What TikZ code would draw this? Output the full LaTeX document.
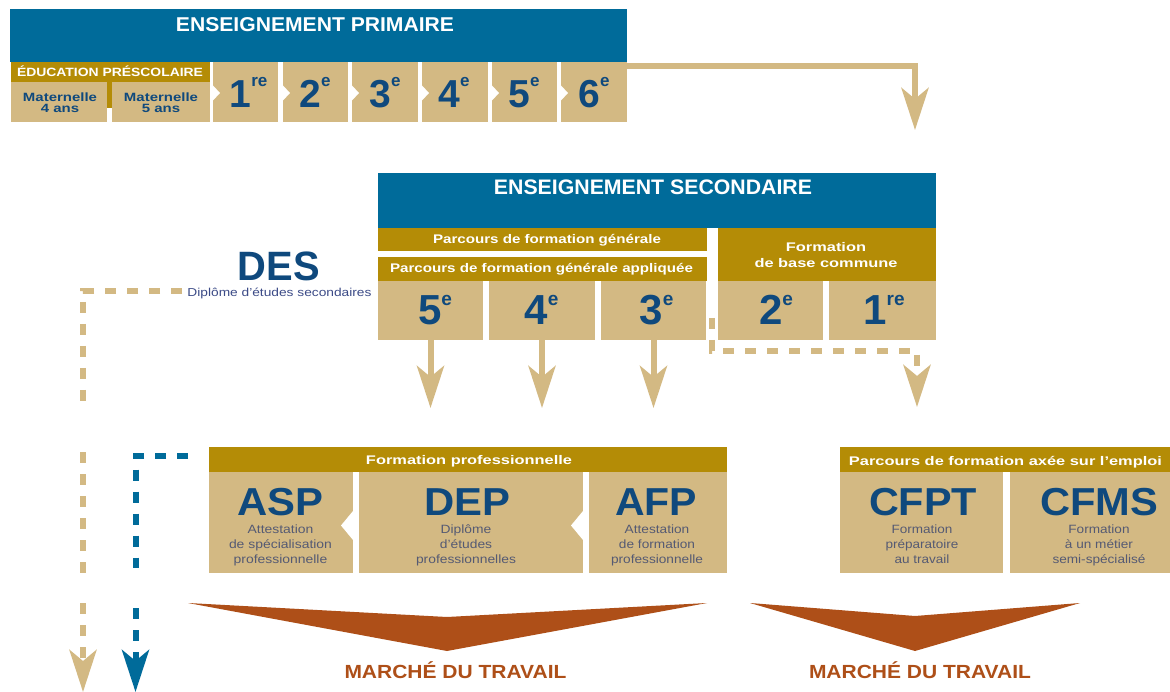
\documentclass[tikz,border=0pt]{standalone}
\usepackage{fontspec}
\setmainfont{Liberation Sans}
\usepackage{graphicx}
\usetikzlibrary{arrows.meta}
\definecolor{bleu}{RGB}{0,107,154}
\definecolor{dgold}{RGB}{180,140,6}
\definecolor{tanc}{RGB}{211,185,131}
\definecolor{navy}{RGB}{15,73,125}
\definecolor{orng}{RGB}{174,79,24}
\definecolor{subc}{RGB}{85,90,115}
\definecolor{desc}{RGB}{60,75,135}
\newcommand\onel[2]{\resizebox{#1}{\height}{#2}}
\newcommand\ctrrows[1]{\vtop{\halign{\hfil##\hfil\cr#1\crcr}}}
\newcommand\mlines[2]{\resizebox{#1}{\height}{\ctrrows{#2}}}
\newcommand\supP[1]{\raisebox{21pt}{\fontsize{17}{17}\selectfont #1}}
\newcommand\supS[1]{\raisebox{19pt}{\fontsize{19}{19}\selectfont #1}}
\begin{document}
\begin{tikzpicture}[x=1pt,y=-1pt,
  box/.style 2 args={anchor=north west,inner sep=0pt,outer sep=0pt,minimum width=#1pt,minimum height=#2pt},
  bluebox/.style={fill=bleu},
  goldbox/.style={fill=dgold},
  tanbox/.style={fill=tanc},
  txt/.style={inner sep=0pt,outer sep=0pt,anchor=base},
  ttl/.style={txt,text=white,font=\bfseries\fontsize{20}{24}\selectfont},
  bar/.style={txt,text=white,font=\bfseries\fontsize{12.5}{16.5}\selectfont},
  gp/.style={txt,text=navy,font=\bfseries\fontsize{39}{40}\selectfont},
  gs/.style={txt,text=navy,font=\bfseries\fontsize{42}{44}\selectfont},
  big/.style={txt,text=navy,font=\bfseries\fontsize{39}{40}\selectfont},
  sub/.style={txt,text=subc,font=\fontsize{12}{15}\selectfont},
  mkt/.style={txt,text=orng,font=\bfseries\fontsize{19}{22}\selectfont},
  >={Stealth[length=42pt,width=27pt,inset=11pt]},
  tanline/.style={draw=tanc,line width=6pt},
  dashy/.style={dash pattern=on 11pt off 11pt},
]
\useasboundingbox (0,0) rectangle (1170,692);
\fill[white] (0,0) rectangle (1170,692);

% ---------- primaire ----------
\node[box={617}{53},bluebox] (pbar) at (10,9) {};
\node[box={199}{20},goldbox] (ped) at (11,62) {};
\node[box={96}{40},tanbox] (m4) at (11,82) {};
\node[box={5}{26},goldbox] (msep) at (107,82) {};
\node[box={98}{40},tanbox] (m5) at (112,82) {};
\node[box={65}{60},tanbox] (p1) at (213,62) {};
\node[box={65}{60},tanbox] (p2) at (283,62) {};
\node[box={66}{60},tanbox] (p3) at (352,62) {};
\node[box={66}{60},tanbox] (p4) at (422,62) {};
\node[box={65}{60},tanbox] (p5) at (492,62) {};
\node[box={66}{60},tanbox] (p6) at (561,62) {};
\foreach \x in {213,283,352,422,492,561}
  \fill[white] (\x,85.5) -- (\x+7,93) -- (\x,100.5) -- cycle;

\node[ttl] (tp) at (315,32) {\onel{278pt}{ENSEIGNEMENT PRIMAIRE}};
\node[txt,text=white,font=\bfseries\fontsize{12}{14}\selectfont] (tep) at (110,77) {\onel{186pt}{ÉDUCATION PRÉSCOLAIRE}};
\node[txt,text=navy,font=\bfseries\fontsize{12}{11}\selectfont] (tm4) at (60,102) {\mlines{74pt}{Maternelle\cr 4 ans}};
\node[txt,text=navy,font=\bfseries\fontsize{12}{11}\selectfont] (tm5) at (161,102) {\mlines{74pt}{Maternelle\cr 5 ans}};
\node[gp] (l1) at (248.5,108) {1\supP{re}};
\node[gp] (l2) at (315,108) {2\supP{e}};
\node[gp] (l3) at (385,108) {3\supP{e}};
\node[gp] (l4) at (454,108) {4\supP{e}};
\node[gp] (l5) at (524,108) {5\supP{e}};
\node[gp] (l6) at (594,108) {6\supP{e}};

% ---------- secondaire ----------
\node[box={558}{55},bluebox] (sbar) at (378,173) {};
\node[box={329}{23},goldbox] (sg1) at (378,228) {};
\node[box={329}{24},goldbox] (sg2) at (378,257) {};
\node[box={218}{53},goldbox] (sfb) at (718,228) {};
\node[box={105}{59},tanbox] (s5) at (378,281) {};
\node[box={106}{59},tanbox] (s4) at (489,281) {};
\node[box={105}{59},tanbox] (s3) at (601,281) {};
\node[box={105}{59},tanbox] (s2) at (718,281) {};
\node[box={107}{59},tanbox] (s1) at (829,281) {};

\node[ttl,font=\bfseries\fontsize{21}{24}\selectfont] (ts) at (653,195) {\onel{318pt}{ENSEIGNEMENT SECONDAIRE}};
\node[bar] (tg1) at (547,243.5) {\onel{228pt}{Parcours de formation générale}};
\node[bar] (tg2) at (541.5,272.5) {\onel{303pt}{Parcours de formation générale appliquée}};
\node[bar] (tfb) at (826,251.5) {\mlines{143pt}{Formation\cr de base commune}};
\node[gs] (k5) at (435,325) {5\supS{e}};
\node[gs] (k4) at (541.5,325) {4\supS{e}};
\node[gs] (k3) at (656.5,325) {3\supS{e}};
\node[gs] (k2) at (776,325) {2\supS{e}};
\node[gs] (k1) at (884,325) {1\supS{re}};

% ---------- DES ----------
\node[txt,text=navy,font=\bfseries\fontsize{41}{44}\selectfont] (des) at (279,281) {\onel{82pt}{DES}};
\node[txt,text=desc,font=\fontsize{11.5}{13}\selectfont] (dessub) at (279.5,297) {\onel{184pt}{Diplôme d'études secondaires}};

% ---------- formation professionnelle ----------
\node[box={518}{25},goldbox] (fpbar) at (209,447) {};
\node[box={144}{101},tanbox] (asp) at (209,472) {};
\node[box={224}{101},tanbox] (dep) at (359,472) {};
\node[box={138}{101},tanbox] (afp) at (589,472) {};
\fill[white] (353,511) -- (341,525.5) -- (353,540) -- cycle;
\fill[white] (583,511) -- (571,525.5) -- (583,540) -- cycle;
\node[bar] (tfp) at (469,464) {\onel{206pt}{Formation professionnelle}};
\node[big] (tasp) at (280,515) {\onel{86pt}{ASP}};
\node[big] (tdep) at (467,515) {\onel{86pt}{DEP}};
\node[big] (tafp) at (656,515) {\onel{82pt}{AFP}};
\node[sub] (sasp) at (280.5,533) {\mlines{103pt}{Attestation\cr de spécialisation\cr professionnelle}};
\node[sub] (sdep) at (466,533) {\mlines{100pt}{Diplôme\cr d'études\cr professionnelles}};
\node[sub] (safp) at (657,533) {\mlines{92pt}{Attestation\cr de formation\cr professionnelle}};

% ---------- parcours axé sur l'emploi ----------
\node[box={330}{25},goldbox] (pabar) at (840,447) {};
\node[box={163}{101},tanbox] (cfpt) at (840,472) {};
\node[box={160}{101},tanbox] (cfms) at (1010,472) {};
\node[bar] (tpa) at (1005.5,465) {\onel{313pt}{Parcours de formation axée sur l'emploi}};
\node[big] (tcfpt) at (923,515) {\onel{108pt}{CFPT}};
\node[big] (tcfms) at (1099,515) {\onel{118pt}{CFMS}};
\node[sub] (scfpt) at (922,533) {\mlines{73pt}{Formation\cr préparatoire\cr au travail}};
\node[sub] (scfms) at (1099,533) {\mlines{93pt}{Formation\cr à un métier\cr semi-spécialisé}};

% ---------- marché du travail ----------
\fill[orng] (188,603) -- (447,617) -- (707,603) -- (447,651) -- cycle;
\fill[orng] (750,603) -- (915,616) -- (1080,603) -- (915,651) -- cycle;
\node[mkt] (mt1) at (455.5,678) {\onel{222pt}{MARCHÉ DU TRAVAIL}};
\node[mkt] (mt2) at (920,678) {\onel{222pt}{MARCHÉ DU TRAVAIL}};

% ---------- connectors ----------
\coordinate (ptip) at (915,130);
\draw[tanline,->] ([yshift=-4pt]p6.north east) -| (ptip);

\coordinate (t5) at (430.5,408);
\coordinate (t4) at (542,408);
\coordinate (t3) at (653.5,408);
\draw[tanline,->] (s5.south) -- (t5);
\draw[tanline,->] (s4.south) -- (t4);
\draw[tanline,->] (s3.south) -- (t3);

\coordinate (e0) at (712,318);
\coordinate (e2) at (917,351);
\coordinate (e1) at (917,407);
\draw[tanline,dashy,->] (e0) |- (e2) -- (e1);

\coordinate (d0) at (182,291);
\coordinate (d1) at (83,403);
\coordinate (d2) at (83,452);
\coordinate (d3) at (83,573);
\coordinate (d4) at (83,603);
\coordinate (d5) at (83,692);
\draw[tanline,dashy] (d0) -| (d1);
\draw[tanline,dashy] (d2) -- (d3);
\draw[tanline,dashy,->] (d4) -- (d5);

\coordinate (b0) at (188,456);
\coordinate (b1) at (135.5,568);
\coordinate (b2) at (135.5,608);
\coordinate (b3) at (135.5,692);
\draw[draw=bleu,line width=6pt,dashy] (b0) -| (b1);
\draw[draw=bleu,line width=6pt,dashy,->] (b2) -- (b3);
\end{tikzpicture}
\end{document}
